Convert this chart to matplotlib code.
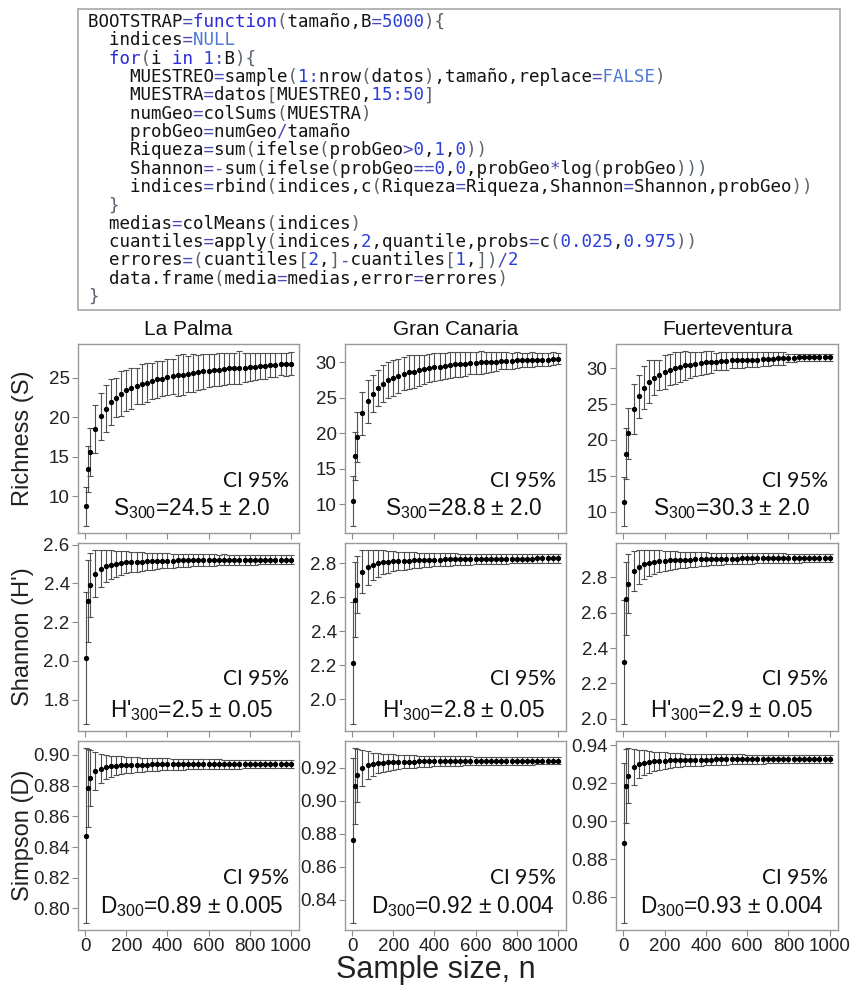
import re
import matplotlib
matplotlib.use("Agg")
import matplotlib.pyplot as plt
from matplotlib.patches import Rectangle

plt.rcParams['font.family'] = ['Liberation Sans', 'DejaVu Sans']
plt.rcParams['mathtext.fontset'] = 'custom'
plt.rcParams['mathtext.rm'] = 'Liberation Sans'
plt.rcParams['mathtext.it'] = 'Liberation Sans:italic'
plt.rcParams['mathtext.default'] = 'regular'

# ---------------- data ----------------
sample_size = [5, 15, 25, 50, 75, 100, 125, 150, 175, 200, 225, 250, 275, 300, 325, 350, 375, 400,
               425, 450, 475, 500, 525, 550, 575, 600, 625, 650, 675, 700, 725, 750, 775, 800,
               825, 850, 875, 900, 925, 950, 975, 1000]

islands = ["La Palma", "Gran Canaria", "Fuerteventura"]
index_labels = ["Richness (S)", "Shannon (H')", "Simpson (D)"]

lp_S_mean = [8.7, 13.4, 15.6, 18.5, 20.1, 21.1, 21.9, 22.5, 23.0, 23.4, 23.7, 24.0, 24.2, 24.4, 24.6,
             24.8, 24.9, 25.1, 25.2, 25.3, 25.4, 25.5, 25.6, 25.7, 25.8, 25.9, 26.0, 26.0, 26.1, 26.2,
             26.2, 26.3, 26.3, 26.4, 26.4, 26.5, 26.5, 26.6, 26.6, 26.7, 26.7, 26.8]
lp_S_err = [2.5, 2.9, 3.0, 3.0, 3.0, 3.0, 2.9, 2.5, 2.9, 2.6, 2.6, 2.3, 2.5, 2.5, 2.3, 2.3, 2.2, 2.3,
            2.2, 2.6, 2.6, 2.3, 2.4, 2.2, 2.2, 2.1, 2.0, 2.1, 2.0, 2.0, 2.0, 2.1, 1.8, 1.8, 1.7, 1.6,
            1.6, 1.5, 1.5, 1.4, 1.5, 1.5]
gc_S_mean = [10.4, 16.8, 19.5, 22.8, 24.5, 25.6, 26.4, 27.0, 27.5, 27.8, 28.1, 28.4, 28.6, 28.7, 28.9,
             29.0, 29.2, 29.3, 29.4, 29.5, 29.6, 29.7, 29.7, 29.8, 29.9, 29.9, 30.0, 30.0, 30.1, 30.1,
             30.2, 30.2, 30.2, 30.3, 30.3, 30.3, 30.4, 30.4, 30.4, 30.4, 30.5, 30.5]
gc_S_err = [3.5, 3.4, 3.5, 3.0, 3.0, 2.6, 2.5, 2.6, 2.6, 2.5, 2.4, 2.3, 2.4, 2.3, 2.2, 2.1, 2.0, 2.0,
            1.9, 1.8, 1.8, 1.8, 1.7, 1.7, 1.6, 1.6, 1.6, 1.5, 1.4, 1.3, 1.2, 1.2, 1.1, 1.1, 1.0, 1.0,
            1.0, 0.9, 0.9, 0.9, 0.9, 0.8]
fv_S_mean = [11.4, 18.1, 20.9, 24.3, 26.1, 27.3, 28.1, 28.7, 29.1, 29.5, 29.8, 30.0, 30.2, 30.4, 30.5,
             30.6, 30.7, 30.8, 30.9, 30.9, 31.0, 31.0, 31.1, 31.1, 31.1, 31.2, 31.2, 31.2, 31.3, 31.3,
             31.3, 31.4, 31.4, 31.4, 31.4, 31.5, 31.5, 31.5, 31.5, 31.5, 31.5, 31.5]
fv_S_err = [3.4, 3.5, 3.6, 3.5, 3.0, 3.0, 3.0, 2.5, 2.1, 2.4, 2.2, 2.2, 2.1, 2.0, 1.8, 1.7, 1.6, 1.6,
            1.5, 1.2, 1.2, 1.2, 1.1, 1.1, 1.1, 1.0, 1.0, 1.0, 1.0, 1.0, 0.9, 0.9, 0.9, 0.6, 0.6, 0.5,
            0.5, 0.5, 0.5, 0.5, 0.5, 0.5]

lp_H_mean = [2.015, 2.31, 2.39, 2.45, 2.475, 2.49, 2.495, 2.50, 2.505, 2.508, 2.51, 2.511, 2.512, 2.513,
             2.514, 2.515, 2.516, 2.517, 2.517, 2.518, 2.518, 2.519, 2.519, 2.519, 2.520, 2.520, 2.520,
             2.520, 2.521, 2.521, 2.521, 2.521, 2.521, 2.522, 2.522, 2.522, 2.522, 2.522, 2.522, 2.522,
             2.522, 2.522]
lp_H_err = [0.34, 0.21, 0.165, 0.12, 0.095, 0.082, 0.075, 0.068, 0.062, 0.057, 0.053, 0.05, 0.047, 0.045,
            0.043, 0.041, 0.039, 0.038, 0.036, 0.035, 0.034, 0.033, 0.032, 0.031, 0.030, 0.030, 0.029,
            0.028, 0.028, 0.027, 0.027, 0.026, 0.026, 0.025, 0.025, 0.024, 0.024, 0.024, 0.023, 0.023,
            0.023, 0.022]
gc_H_mean = [2.215, 2.585, 2.675, 2.75, 2.775, 2.79, 2.80, 2.805, 2.808, 2.811, 2.813, 2.815, 2.816, 2.817,
             2.818, 2.819, 2.820, 2.821, 2.821, 2.822, 2.822, 2.823, 2.823, 2.824, 2.824, 2.824, 2.825,
             2.825, 2.825, 2.826, 2.826, 2.826, 2.826, 2.827, 2.827, 2.827, 2.827, 2.828, 2.828, 2.828,
             2.828, 2.828]
gc_H_err = [0.36, 0.22, 0.17, 0.125, 0.10, 0.087, 0.078, 0.07, 0.064, 0.059, 0.055, 0.052, 0.049, 0.047,
            0.045, 0.043, 0.041, 0.040, 0.038, 0.037, 0.036, 0.035, 0.034, 0.033, 0.032, 0.031, 0.031,
            0.030, 0.029, 0.029, 0.028, 0.028, 0.027, 0.027, 0.026, 0.026, 0.026, 0.025, 0.025, 0.025,
            0.024, 0.024]
fv_H_mean = [2.32, 2.68, 2.765, 2.835, 2.86, 2.873, 2.881, 2.887, 2.891, 2.894, 2.896, 2.898, 2.899, 2.900,
             2.901, 2.902, 2.903, 2.904, 2.904, 2.905, 2.905, 2.906, 2.906, 2.906, 2.907, 2.907, 2.907,
             2.908, 2.908, 2.908, 2.908, 2.909, 2.909, 2.909, 2.909, 2.909, 2.910, 2.910, 2.910, 2.910,
             2.910, 2.910]
fv_H_err = [0.35, 0.205, 0.165, 0.115, 0.095, 0.082, 0.073, 0.066, 0.061, 0.057, 0.053, 0.050, 0.047, 0.045,
            0.043, 0.041, 0.039, 0.038, 0.036, 0.035, 0.034, 0.033, 0.032, 0.031, 0.030, 0.030, 0.029,
            0.028, 0.028, 0.027, 0.027, 0.026, 0.026, 0.025, 0.025, 0.025, 0.024, 0.024, 0.024, 0.023,
            0.023, 0.023]

lp_D_mean = [0.8475, 0.8785, 0.885, 0.8895, 0.891, 0.892, 0.8925, 0.893, 0.8932, 0.8934, 0.8935, 0.8936,
             0.8937, 0.8937, 0.8938, 0.8938, 0.8938, 0.8939, 0.8939, 0.8939, 0.8939, 0.8939, 0.8940,
             0.8940, 0.8940, 0.8940, 0.8940, 0.8940, 0.8940, 0.8940, 0.8940, 0.8940, 0.8940, 0.8940,
             0.8940, 0.8940, 0.8940, 0.8940, 0.8940, 0.8940, 0.8940, 0.8940]
lp_D_err = [0.057, 0.0255, 0.018, 0.0125, 0.0095, 0.008, 0.007, 0.0063, 0.0058, 0.0054, 0.005, 0.0048,
            0.0046, 0.0044, 0.0042, 0.0041, 0.0039, 0.0038, 0.0037, 0.0036, 0.0035, 0.0034, 0.0034,
            0.0033, 0.0032, 0.0032, 0.0031, 0.0031, 0.0030, 0.0030, 0.0029, 0.0029, 0.0028, 0.0028,
            0.0028, 0.0027, 0.0027, 0.0027, 0.0026, 0.0026, 0.0026, 0.0025]
gc_D_mean = [0.876, 0.909, 0.9155, 0.920, 0.9215, 0.9222, 0.9228, 0.9231, 0.9233, 0.9235, 0.9236, 0.9237,
             0.9238, 0.9238, 0.9239, 0.9239, 0.9240, 0.9240, 0.9240, 0.9241, 0.9241, 0.9241, 0.9241,
             0.9242, 0.9242, 0.9242, 0.9242, 0.9242, 0.9242, 0.9243, 0.9243, 0.9243, 0.9243, 0.9243,
             0.9243, 0.9243, 0.9243, 0.9243, 0.9243, 0.9243, 0.9243, 0.9243]
gc_D_err = [0.05, 0.023, 0.016, 0.011, 0.0085, 0.007, 0.006, 0.0055, 0.005, 0.0047, 0.0044, 0.0041,
            0.0039, 0.0037, 0.0035, 0.0034, 0.0033, 0.0032, 0.0031, 0.0030, 0.0029, 0.0029, 0.0028,
            0.0027, 0.0027, 0.0026, 0.0026, 0.0025, 0.0025, 0.0025, 0.0024, 0.0024, 0.0024, 0.0023,
            0.0023, 0.0023, 0.0023, 0.0022, 0.0022, 0.0022, 0.0022, 0.0022]
fv_D_mean = [0.8885, 0.9185, 0.924, 0.9285, 0.930, 0.9308, 0.9312, 0.9315, 0.9317, 0.9319, 0.9320, 0.9321,
             0.9322, 0.9322, 0.9323, 0.9323, 0.9324, 0.9324, 0.9324, 0.9325, 0.9325, 0.9325, 0.9325,
             0.9326, 0.9326, 0.9326, 0.9326, 0.9326, 0.9326, 0.9327, 0.9327, 0.9327, 0.9327, 0.9327,
             0.9327, 0.9327, 0.9327, 0.9327, 0.9327, 0.9327, 0.9327, 0.9327]
fv_D_err = [0.042, 0.0195, 0.0145, 0.0095, 0.0075, 0.0065, 0.0056, 0.005, 0.0046, 0.0043, 0.004, 0.0038,
            0.0036, 0.0034, 0.0033, 0.0032, 0.0031, 0.0030, 0.0029, 0.0028, 0.0027, 0.0027, 0.0026,
            0.0025, 0.0025, 0.0024, 0.0024, 0.0023, 0.0023, 0.0023, 0.0022, 0.0022, 0.0022, 0.0021,
            0.0021, 0.0021, 0.0020, 0.0020, 0.0020, 0.0020, 0.0019, 0.0019]

x_ticks = [0, 200, 400, 600, 800, 1000]
y_ticks = [
    [[10, 15, 20, 25], [10, 15, 20, 25, 30], [10, 15, 20, 25, 30]],
    [[1.8, 2.0, 2.2, 2.4, 2.6], [2.0, 2.2, 2.4, 2.6, 2.8], [2.0, 2.2, 2.4, 2.6, 2.8]],
    [[0.80, 0.82, 0.84, 0.86, 0.88, 0.90], [0.84, 0.86, 0.88, 0.90, 0.92], [0.86, 0.88, 0.90, 0.92, 0.94]],
]
y_fmt = ["{:.0f}", "{:.1f}", "{:.2f}"]

annot = [
    [r"S$_{300}$=24.5 ± 2.0", r"S$_{300}$=28.8 ± 2.0", r"S$_{300}$=30.3 ± 2.0"],
    [r"H'$_{300}$=2.5 ± 0.05", r"H'$_{300}$=2.8 ± 0.05", r"H'$_{300}$=2.9 ± 0.05"],
    [r"D$_{300}$=0.89 ± 0.005", r"D$_{300}$=0.92 ± 0.004", r"D$_{300}$=0.93 ± 0.004"],
]

means = [[lp_S_mean, gc_S_mean, fv_S_mean], [lp_H_mean, gc_H_mean, fv_H_mean], [lp_D_mean, gc_D_mean, fv_D_mean]]
errs = [[lp_S_err, gc_S_err, fv_S_err], [lp_H_err, gc_H_err, fv_H_err], [lp_D_err, gc_D_err, fv_D_err]]

code_lines = [
    "BOOTSTRAP=function(tamaño,B=5000){",
    "  indices=NULL",
    "  for(i in 1:B){",
    "    MUESTREO=sample(1:nrow(datos),tamaño,replace=FALSE)",
    "    MUESTRA=datos[MUESTREO,15:50]",
    "    numGeo=colSums(MUESTRA)",
    "    probGeo=numGeo/tamaño",
    "    Riqueza=sum(ifelse(probGeo>0,1,0))",
    "    Shannon=-sum(ifelse(probGeo==0,0,probGeo*log(probGeo)))",
    "    indices=rbind(indices,c(Riqueza=Riqueza,Shannon=Shannon,probGeo))",
    "  }",
    "  medias=colMeans(indices)",
    "  cuantiles=apply(indices,2,quantile,probs=c(0.025,0.975))",
    "  errores=(cuantiles[2,]-cuantiles[1,])/2",
    "  data.frame(media=medias,error=errores)",
    "}",
]

# ---------------- figure ----------------
W, H = 855, 990
fig = plt.figure(figsize=(W / 100, H / 100), dpi=100)
fig.patch.set_facecolor("white")

# code box overlay (pixel coordinates)
ov = fig.add_axes([0, 0, 1, 1])
ov.set_xlim(0, W)
ov.set_ylim(H, 0)
ov.axis("off")
ov.add_patch(Rectangle((78, 9), 762, 301, facecolor="white", edgecolor="#a8a8a8", lw=1.2))

colors = {"tx": "#141414", "kw": "#2a2ad8", "num": "#2a3ed8", "const": "#4d7ad8",
          "op": "#4a4ab4", "br": "#5c6470"}
patterns = [("kw", r"\b(function|for|in)\b"), ("const", r"\b(NULL|FALSE)\b"),
            ("num", r"(?<![A-Za-z_])\d+(\.\d+)?"), ("op", r"[=\-*/<>:]"), ("br", r"[(){}\[\]]")]


def classify(line):
    cls = ["tx"] * len(line)
    taken = [False] * len(line)
    for name, pat in patterns:
        for m in re.finditer(pat, line):
            if any(taken[m.start():m.end()]):
                continue
            for k in range(m.start(), m.end()):
                cls[k] = name
                taken[k] = True
    return cls


for i, line in enumerate(code_lines):
    cls = classify(line)
    y = 22 + i * 18.33
    for cname, col in colors.items():
        s = "".join(ch if cls[k] == cname else " " for k, ch in enumerate(line))
        if s.strip():
            ov.text(88, y, s, family="DejaVu Sans Mono", fontsize=12.6, color=col, va="center", ha="left")

# panels
col_lr = [(78, 299), (345, 566), (616, 838)]
row_tb = [(344, 533), (543, 731), (741, 930)]
annot_y = [0.095, 0.075, 0.09]
annot_x = [0.515, 0.535, 0.52]

for r in range(3):
    for c in range(3):
        L, R = col_lr[c]
        T, B = row_tb[r]
        ax = fig.add_axes([L / W, 1 - B / H, (R - L) / W, (B - T) / H])
        ax.errorbar(sample_size, means[r][c], yerr=errs[r][c], fmt="o", ms=2.8, color="black",
                    ecolor="#505050", elinewidth=0.8, capsize=2, capthick=0.8, zorder=3)
        ax.margins(x=0.04, y=0.04)
        ax.set_xticks(x_ticks)
        ax.set_yticks(y_ticks[r][c])
        ax.set_yticklabels([y_fmt[r].format(v) for v in y_ticks[r][c]])
        if r == 2:
            ax.set_xticklabels([str(v) for v in x_ticks])
        else:
            ax.set_xticklabels([])
        for sp in ax.spines.values():
            sp.set_color("#9a9a9a")
            sp.set_linewidth(1.0)
        ax.tick_params(direction="out", length=4, width=0.8, color="#8a8a8a",
                       labelsize=13.5, labelcolor="#222222", pad=2)
        ax.text(0.955, 0.245, "CI 95%", transform=ax.transAxes, ha="right", va="baseline",
                family="Lato", fontsize=15, color="#111111")
        ax.text(annot_x[c], annot_y[r], annot[r][c], transform=ax.transAxes, ha="center", va="baseline",
                fontsize=16.3, color="#111111")

for c in range(3):
    L, R = col_lr[c]
    fig.text((L + R) / 2 / W, 1 - 330 / H, islands[c], ha="center", va="center", fontsize=15, color="#111111")

for r in range(3):
    T, B = row_tb[r]
    fig.text(23 / W, 1 - (T + B) / 2 / H, index_labels[r], rotation=90, ha="center", va="center",
             fontsize=17, color="#222222")

fig.text(436 / W, 1 - 970 / H, "Sample size, n", ha="center", va="center", fontsize=22, color="#222222")

fig.savefig("out.png", dpi=100, facecolor="white")
